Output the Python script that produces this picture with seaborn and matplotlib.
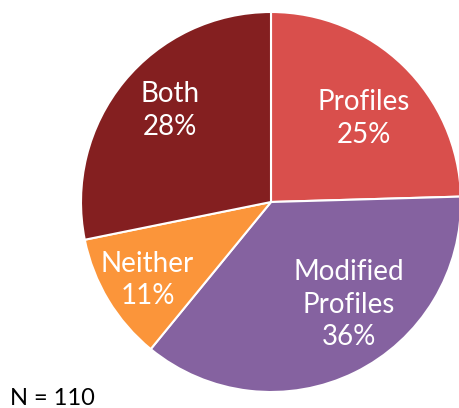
import seaborn as sns
import matplotlib
matplotlib.use("Agg")
import matplotlib.pyplot as plt

# Survey responses, N = 110 (order: clockwise from 12 o'clock)
categories = ["Profiles", "Modified\nProfiles", "Neither", "Both"]
counts = [27, 40, 12, 31]
colors = ["#D94F4C", "#8562A0", "#FB953A", "#841F20"]
total_label = "N = 110"
# where each label sits inside its wedge (fraction of radius, x/y)
label_xy = [(0.49, 0.44), (0.41, -0.54), (-0.65, -0.41), (-0.53, 0.48)]

sns.set_theme(style="white")
plt.rcParams['font.family'] = ['Lato', 'DejaVu Sans']

fig = plt.figure(figsize=(4.6, 4.08), dpi=100)
# axes sized so the circle is centred at (271, 202) px with radius 190 px
cx, cy, r = 271, 202, 190
ax = fig.add_axes([(cx - r) / 460, (408 - cy - r) / 408, 2 * r / 460, 2 * r / 408])

def fmt(pct):
    return "{:.0f}%".format(pct)

wedges, texts, autotexts = ax.pie(
    counts, colors=colors, startangle=90, counterclock=False,
    autopct=fmt, pctdistance=0.7, labels=None,
    wedgeprops=dict(edgecolor="white", linewidth=1.5),
    textprops=dict(color="white", fontsize=20),
)
ax.set_xlim(-1, 1)
ax.set_ylim(-1, 1)

# put the category name above the percentage inside each wedge
for name, t, xy in zip(categories, autotexts, label_xy):
    t.set_text(name + "\n" + t.get_text())
    t.set_position(xy)
    t.set_horizontalalignment("center")
    t.set_verticalalignment("center")
    t.set_linespacing(1.32)

fig.text(10 / 460, 3 / 408, total_label, fontsize=17, color="black",
         ha="left", va="baseline")

fig.savefig("out.png", dpi=100)
